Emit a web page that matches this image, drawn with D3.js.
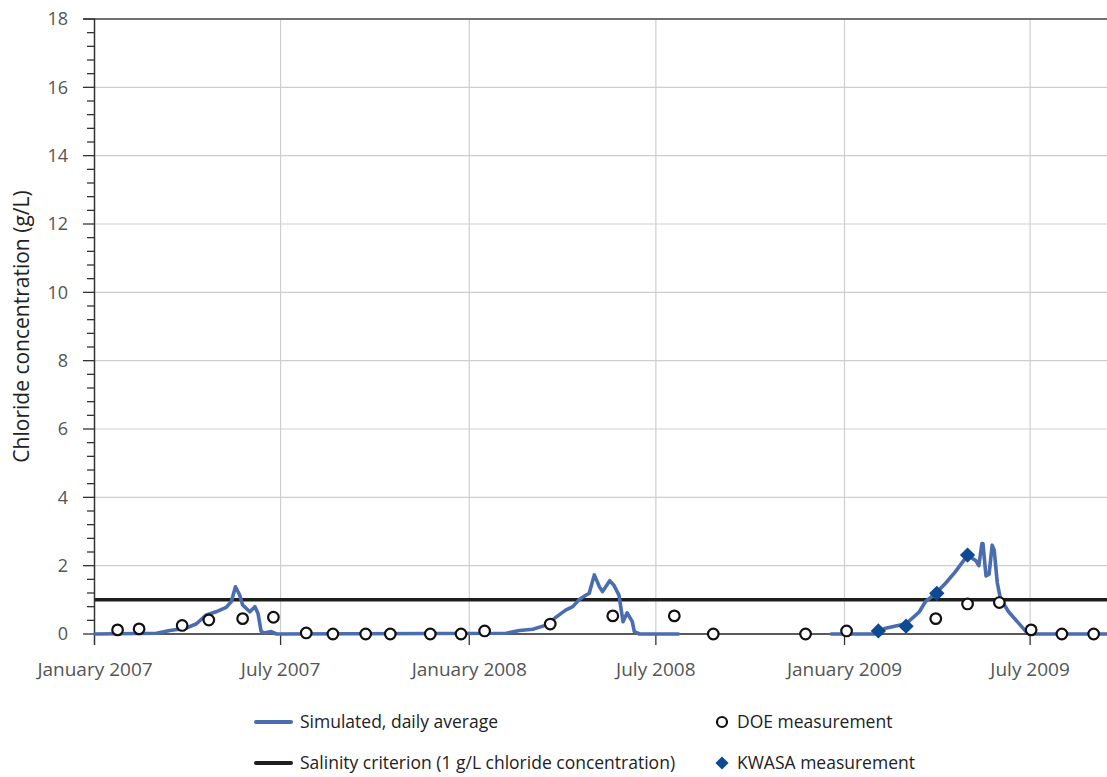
<!DOCTYPE html>
<html>
<head>
<meta charset="utf-8">
<script src="https://cdn.jsdelivr.net/npm/d3@7"></script>
<style>
  body { margin: 0; background: #fff; }
  svg { display: block; font-family: "Open Sans", sans-serif; }
</style>
</head>
<body>
<div id="chart"></div>
<script>
// ---- data ----
// simulated daily average, two runs with a gap in between
var simDates1 = ["2007-01-01","2007-03-02","2007-03-15","2007-03-31","2007-04-10","2007-04-19","2007-04-29","2007-05-09","2007-05-14","2007-05-18","2007-05-22","2007-05-25","2007-06-01","2007-06-06","2007-06-09","2007-06-12","2007-06-15","2007-06-22","2007-06-27","2008-02-06","2008-02-19","2008-03-03","2008-03-16","2008-03-26","2008-04-04","2008-04-11","2008-04-17","2008-04-24","2008-04-27","2008-05-02","2008-05-07","2008-05-10","2008-05-17","2008-05-21","2008-05-26","2008-05-30","2008-06-03","2008-06-08","2008-06-10","2008-06-15","2008-07-23"];
var simValues1 = [0, 0.02, 0.1, 0.17, 0.3, 0.55, 0.65, 0.78, 0.95, 1.38, 1.15, 0.85, 0.65, 0.8, 0.6, 0.08, 0.03, 0.07, 0, 0.02, 0.1, 0.14, 0.26, 0.5, 0.7, 0.8, 1.0, 1.14, 1.19, 1.73, 1.38, 1.24, 1.56, 1.43, 1.14, 0.36, 0.62, 0.36, 0.07, 0, 0];
var simDates2 = ["2008-12-19","2009-01-30","2009-02-10","2009-03-02","2009-03-15","2009-03-21","2009-04-01","2009-04-10","2009-04-19","2009-05-01","2009-05-09","2009-05-12","2009-05-15","2009-05-16","2009-05-19","2009-05-22","2009-05-25","2009-05-27","2009-05-30","2009-06-02","2009-06-10","2009-06-20","2009-06-27","2009-07-03","2009-09-14"];
var simValues2 = [0, 0, 0.17, 0.3, 0.65, 0.95, 1.22, 1.5, 1.82, 2.3, 2.15, 2.0, 2.65, 2.65, 1.7, 1.75, 2.6, 2.45, 1.5, 1.04, 0.65, 0.31, 0.07, 0, 0];

var doeDates = ["2007-01-23","2007-02-13","2007-03-27","2007-04-22","2007-05-25","2007-06-24","2007-07-26","2007-08-21","2007-09-22","2007-10-16","2007-11-24","2007-12-24","2008-01-16","2008-03-20","2008-05-20","2008-07-19","2008-08-26","2008-11-24","2009-01-03","2009-03-31","2009-05-01","2009-06-01","2009-07-02","2009-08-01","2009-09-01"];
var doeValues = [0.12, 0.15, 0.25, 0.41, 0.45, 0.49, 0.03, 0, 0, 0, 0, 0, 0.09, 0.29, 0.53, 0.53, 0, 0, 0.09, 0.45, 0.88, 0.92, 0.12, 0, 0];

var kwasaDates = ["2009-02-03","2009-03-02","2009-04-01","2009-05-01"];
var kwasaValues = [0.09, 0.23, 1.19, 2.31];

var criterion = 1;

var xTickDates = ["2007-01-01","2007-07-01","2008-01-01","2008-07-01","2009-01-01","2009-07-01"];
var xTickLabels = ["January 2007","July 2007","January 2008","July 2008","January 2009","July 2009"];
var yTicks = [0, 2, 4, 6, 8, 10, 12, 14, 16, 18];

var legendItems = ["Simulated, daily average", "DOE measurement", "Salinity criterion (1 g/L chloride concentration)", "KWASA measurement"];

// ---- layout ----
var W = 1107, H = 777;
var margin = {top: 19, right: 0, bottom: 143, left: 95},
width = W - margin.left - margin.right,
height = H - margin.top - margin.bottom;

var parseDate = d3.timeParse("%Y-%m-%d");

var x = d3.scaleTime()
  .domain([parseDate("2007-01-01"), parseDate("2009-09-14")])
  .range([0, width]);
var y = d3.scaleLinear().domain([0, 18]).range([height, 0]);

var svg = d3.select("#chart").append("svg")
  .attr("width", W)
  .attr("height", H);

var g = svg.append("g")
  .attr("transform", "translate(" + margin.left + "," + margin.top + ")");

// gridlines
g.append("g")
  .selectAll("line.hg")
  .data(yTicks.filter(function(d) { return d > 0 && d < 18; }))
  .enter().append("line")
  .attr("x1", 0).attr("x2", width)
  .attr("y1", function(d) { return y(d); })
  .attr("y2", function(d) { return y(d); })
  .attr("stroke", "#cfcfcf").attr("stroke-width", 1.2);

g.append("g")
  .selectAll("line.vg")
  .data(xTickDates.slice(1))
  .enter().append("line")
  .attr("x1", function(d) { return x(parseDate(d)); })
  .attr("x2", function(d) { return x(parseDate(d)); })
  .attr("y1", 0).attr("y2", height)
  .attr("stroke", "#cfcfcf").attr("stroke-width", 1.2);

// top border at 18
g.append("line")
  .attr("x1", -12).attr("x2", width)
  .attr("y1", y(18)).attr("y2", y(18))
  .attr("stroke", "#707070").attr("stroke-width", 2);

// Y axis (major + minor ticks)
var minorTicks = d3.range(0, 18.01, 0.4).filter(function(d) { return Math.abs(d / 2 - Math.round(d / 2)) > 0.01; });
var yAxis = g.append("g").attr("class", "y-axis");
yAxis.append("line")
  .attr("x1", -0.5).attr("x2", -0.5)
  .attr("y1", y(18)).attr("y2", height + 11)
  .attr("stroke", "#333").attr("stroke-width", 1.5);
yAxis.selectAll("line.minor")
  .data(minorTicks)
  .enter().append("line")
  .attr("x1", -8).attr("x2", 0)
  .attr("y1", function(d) { return y(d); })
  .attr("y2", function(d) { return y(d); })
  .attr("stroke", "#333").attr("stroke-width", 1.3);
yAxis.selectAll("line.major")
  .data(yTicks)
  .enter().append("line")
  .attr("x1", -12).attr("x2", 0)
  .attr("y1", function(d) { return y(d); })
  .attr("y2", function(d) { return y(d); })
  .attr("stroke", "#333").attr("stroke-width", 1.3);
yAxis.selectAll("text")
  .data(yTicks)
  .enter().append("text")
  .attr("x", -27)
  .attr("y", function(d) { return y(d); })
  .attr("dy", "0.35em")
  .attr("text-anchor", "end")
  .style("font-size", "18px")
  .attr("fill", "#555")
  .text(function(d) { return d; });

// X axis
var xAxis = g.append("g").attr("class", "x-axis");
xAxis.append("line")
  .attr("x1", 0).attr("x2", width)
  .attr("y1", height).attr("y2", height)
  .attr("stroke", "#222").attr("stroke-width", 1.5);
xAxis.selectAll("line.tick")
  .data(xTickDates.slice(1))
  .enter().append("line")
  .attr("x1", function(d) { return x(parseDate(d)); })
  .attr("x2", function(d) { return x(parseDate(d)); })
  .attr("y1", height).attr("y2", height + 11)
  .attr("stroke", "#333").attr("stroke-width", 1.3);
xAxis.selectAll("text")
  .data(xTickDates)
  .enter().append("text")
  .attr("x", function(d) { return x(parseDate(d)); })
  .attr("y", height + 35)
  .attr("dy", "0.35em")
  .attr("text-anchor", "middle")
  .style("font-size", "19px")
  .attr("fill", "#555")
  .text(function(d, i) { return xTickLabels[i]; });

// Y label
svg.append("text")
  .attr("transform", "translate(22," + (margin.top + height / 2) + ") rotate(-90)")
  .attr("text-anchor", "middle")
  .attr("dy", "0.35em")
  .style("font-size", "21px")
  .attr("fill", "#222")
  .text("Chloride concentration (g/L)");

// salinity criterion
g.append("line")
  .attr("x1", 0).attr("x2", width)
  .attr("y1", y(criterion)).attr("y2", y(criterion))
  .attr("stroke", "#1e1e1e").attr("stroke-width", 3.5);

// simulated line
var valueline = d3.line()
  .x(function(d) { return x(d.date); })
  .y(function(d) { return y(d.value); });

function toSeries(dates, values) {
  return dates.map(function(d, i) { return {date: parseDate(d), value: values[i]}; });
}
var simRuns = [toSeries(simDates1, simValues1), toSeries(simDates2, simValues2)];

g.selectAll("path.sim")
  .data(simRuns)
  .enter().append("path")
  .attr("class", "sim")
  .attr("d", valueline)
  .attr("fill", "none")
  .attr("stroke", "#4a6cb0")
  .attr("stroke-width", 3.6)
  .attr("stroke-linejoin", "round")
  .attr("stroke-linecap", "round");

// DOE circles
g.selectAll("circle.doe")
  .data(toSeries(doeDates, doeValues))
  .enter().append("circle")
  .attr("class", "doe")
  .attr("cx", function(d) { return x(d.date); })
  .attr("cy", function(d) { return y(d.value); })
  .attr("r", 5.3)
  .attr("fill", "#fff")
  .attr("stroke", "#111")
  .attr("stroke-width", 2.2);

// KWASA diamonds
var diamond = d3.symbol().type(d3.symbolDiamond2).size(150);
g.selectAll("path.kwasa")
  .data(toSeries(kwasaDates, kwasaValues))
  .enter().append("path")
  .attr("class", "kwasa")
  .attr("transform", function(d) { return "translate(" + x(d.date) + "," + y(d.value) + ")"; })
  .attr("d", diamond)
  .attr("fill", "#0d4a92");

// legend
var legend = svg.append("g");
var rowY = [722, 763];
legend.append("line")
  .attr("x1", 256).attr("x2", 291).attr("y1", rowY[0]).attr("y2", rowY[0])
  .attr("stroke", "#4a6cb0").attr("stroke-width", 4).attr("stroke-linecap", "round");
legend.append("line")
  .attr("x1", 256).attr("x2", 291).attr("y1", rowY[1]).attr("y2", rowY[1])
  .attr("stroke", "#1e1e1e").attr("stroke-width", 4).attr("stroke-linecap", "round");
legend.append("circle")
  .attr("cx", 722).attr("cy", rowY[0]).attr("r", 5)
  .attr("fill", "#fff").attr("stroke", "#111").attr("stroke-width", 2.2);
legend.append("path")
  .attr("transform", "translate(722," + rowY[1] + ")")
  .attr("d", d3.symbol().type(d3.symbolDiamond2).size(110))
  .attr("fill", "#0d4a92");

var legendPos = [[300, rowY[0]], [737, rowY[0]], [300, rowY[1]], [737, rowY[1]]];
legend.selectAll("text")
  .data(legendItems)
  .enter().append("text")
  .attr("x", function(d, i) { return legendPos[i][0]; })
  .attr("y", function(d, i) { return legendPos[i][1]; })
  .attr("dy", "0.35em")
  .style("font-size", "17.5px")
  .attr("fill", "#222")
  .text(function(d) { return d; });
</script>
</body>
</html>
